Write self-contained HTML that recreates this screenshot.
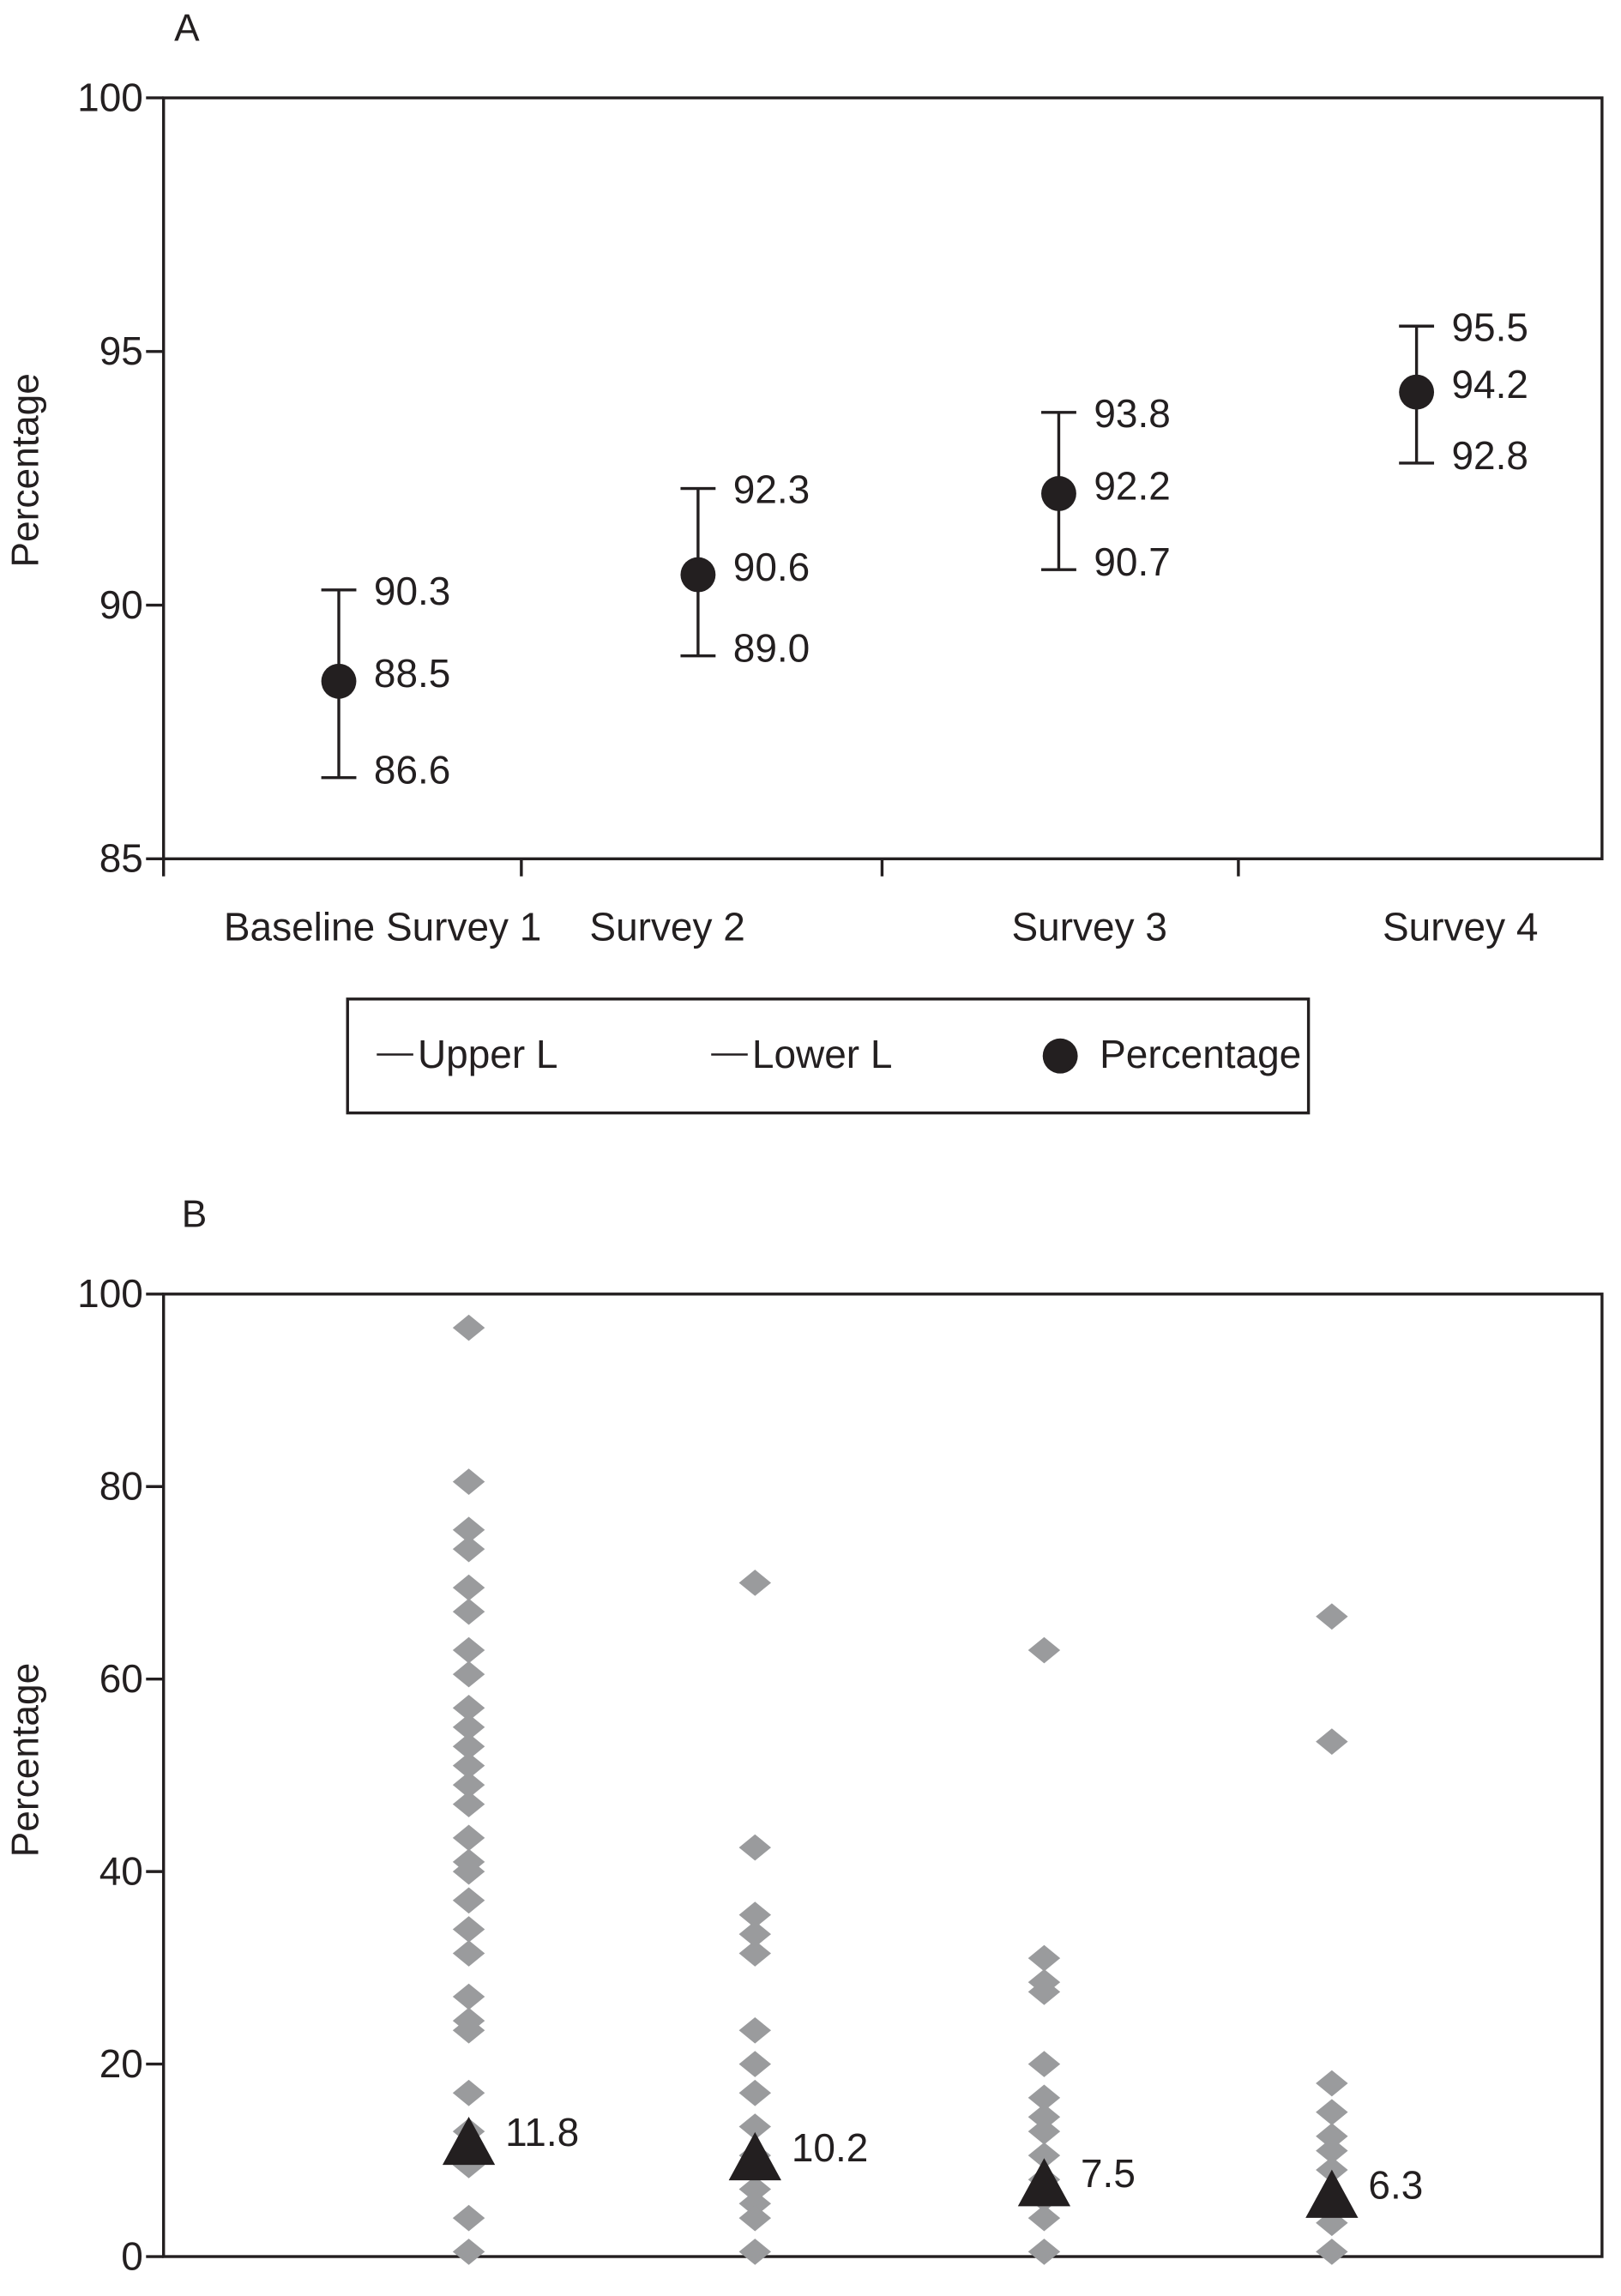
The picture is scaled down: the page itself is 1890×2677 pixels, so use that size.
<!DOCTYPE html>
<html><head><meta charset="utf-8"><style>
html,body{margin:0;padding:0;background:#fff}
svg{display:block}
text{font-family:"Liberation Sans Narrow","Liberation Sans",sans-serif;fill:#231f20}
</style></head><body>
<svg id="fig" width="1890" height="2677" viewBox="0 0 1110 1572" preserveAspectRatio="none" xmlns="http://www.w3.org/2000/svg">
<g id="chartA"></g>
<g id="chartB"></g>
</svg>
<script>
// ---- Chart A data ----
const catsA = ["Baseline Survey 1", "Survey 2", "Survey 3", "Survey 4"];
const meanA = [88.5, 90.6, 92.2, 94.2];
const upperA = [90.3, 92.3, 93.8, 95.5];
const lowerA = [86.6, 89.0, 90.7, 92.8];
const ticksA = [85, 90, 95, 100];
// ---- Chart B data ----
const meansB = [11.8, 10.2, 7.5, 6.3];
const col1 = [96.5, 80.5, 75.5, 73.5, 69.5, 67, 63, 60.5, 57, 55, 53, 51, 49, 47, 43.5, 41, 40, 37, 34, 31.5, 27, 24.5, 23.5, 17, 13, 9.5, 4, 0.5];
const col2 = [70, 42.5, 35.5, 33.5, 31.5, 23.5, 20, 17, 13.5, 10.5, 7, 5.5, 4, 0.5];
const col3 = [63, 31, 28.5, 27.5, 20, 16.5, 14.5, 13, 10.5, 8, 6, 4, 0.5];
const col4 = [66.5, 53.5, 18, 15, 12.5, 11, 9, 6, 3.5, 0.5];
const ticksB = [0, 20, 40, 60, 80, 100];

const NS = "http://www.w3.org/2000/svg";
function mk(parent, tag, attrs, txt) {
  const e = document.createElementNS(NS, tag);
  for (const k in attrs) e.setAttribute(k, attrs[k]);
  if (txt !== undefined) e.textContent = txt;
  parent.appendChild(e);
  return e;
}
const L = 112, R = 1097;

// ===== Chart A =====
const gA = document.getElementById('chartA');
const A_top = 67, A_bot = 588;
const yA = v => A_bot - (v - 85) / 15 * (A_bot - A_top);
const xA = i => [232, 478, 725, 970][i];
const catX = i => [262, 457, 746, 1000][i];
let t;
t = mk(gA, 'text', {x: 128, y: 28, 'font-size': 26, 'text-anchor': 'middle'}, 'A');


let r = mk(gA, 'rect', {x: L, y: A_top, width: R - L, height: A_bot - A_top, fill: 'none', stroke: '#231f20', 'stroke-width': 2});


t = mk(gA, 'text', {x: 0, y: 0, 'font-size': 26, 'text-anchor': 'middle', transform: 'translate(26,322) rotate(-90)'}, 'Percentage');


ticksA.forEach(v => {
  const l = mk(gA, 'line', {x1: 100, x2: L, y1: yA(v), y2: yA(v), stroke: '#231f20', 'stroke-width': 2});
  
  
  const tt = mk(gA, 'text', {x: 98, y: yA(v) + 9, 'font-size': 27, 'text-anchor': 'end'}, String(v));
  
  
});
[112, 357, 604, 848].forEach(x => {
  const l = mk(gA, 'line', {x1: x, x2: x, y1: A_bot, y2: A_bot + 12, stroke: '#231f20', 'stroke-width': 2});
  
  
});
catsA.forEach((c, i) => {
  const tt = mk(gA, 'text', {x: catX(i), y: 644, 'font-size': 27, 'text-anchor': 'middle'}, c);
  
  
  const x = xA(i);
  const w = mk(gA, 'path', {d: `M${x},${yA(upperA[i])}V${yA(lowerA[i])}M${x-12},${yA(upperA[i])}H${x+12}M${x-12},${yA(lowerA[i])}H${x+12}`, stroke: '#231f20', 'stroke-width': 2, fill: 'none'});
  
  
  const d = mk(gA, 'circle', {cx: x, cy: yA(meanA[i]), r: 12, fill: '#231f20'});
  
  
  const lu = mk(gA, 'text', {x: x + 24, y: yA(upperA[i]) + 10, 'font-size': 27}, upperA[i].toFixed(1));
  
  
  const lm = mk(gA, 'text', {x: x + 24, y: yA(meanA[i]) + 4, 'font-size': 27}, meanA[i].toFixed(1));
  
  
  const ll = mk(gA, 'text', {x: x + 24, y: yA(lowerA[i]) + 4, 'font-size': 27}, lowerA[i].toFixed(1));
  
  
});
// legend
const lg = mk(gA, 'g', {});


r = mk(lg, 'rect', {x: 238, y: 684, width: 658, height: 78, fill: 'none', stroke: '#231f20', 'stroke-width': 2});


[[258, 'Upper L'], [487, 'Lower L']].forEach(([x, s]) => {
  const l = mk(lg, 'line', {x1: x, x2: x + 25, y1: 722, y2: 722, stroke: '#231f20', 'stroke-width': 1.5});
  
  
  const tt = mk(lg, 'text', {x: x + 28, y: 731, 'font-size': 27}, s);
  
  
});
let c = mk(lg, 'circle', {cx: 726, cy: 723, r: 12, fill: '#231f20'});


t = mk(lg, 'text', {x: 753, y: 731, 'font-size': 27}, 'Percentage');



// ===== Chart B =====
const gB = document.getElementById('chartB');
const B_top = 886, B_bot = 1545;
const yB = v => B_bot - v / 100 * (B_bot - B_top);
const xB = i => [321, 517, 715, 912][i];
t = mk(gB, 'text', {x: 133, y: 840, 'font-size': 26, 'text-anchor': 'middle'}, 'B');


r = mk(gB, 'rect', {x: L, y: B_top, width: R - L, height: B_bot - B_top, fill: 'none', stroke: '#231f20', 'stroke-width': 2});


t = mk(gB, 'text', {x: 0, y: 0, 'font-size': 26, 'text-anchor': 'middle', transform: 'translate(26,1205) rotate(-90)'}, 'Percentage');


ticksB.forEach(v => {
  const l = mk(gB, 'line', {x1: 100, x2: L, y1: yB(v), y2: yB(v), stroke: '#231f20', 'stroke-width': 2});
  
  
  const tt = mk(gB, 'text', {x: 98, y: yB(v) + 9, 'font-size': 27, 'text-anchor': 'end'}, String(v));
  
  
});
[col1, col2, col3, col4].forEach((col, i) => {
  const x = xB(i);
  col.forEach(v => {
    const y = yB(v);
    const d = mk(gB, 'polygon', {points: `${x},${y-9} ${x+11},${y} ${x},${y+9} ${x-11},${y}`, fill: '#9a9b9d'});
    
    
  });
});
meansB.forEach((m, i) => {
  const x = xB(i), y = yB(m);
  const tr = mk(gB, 'polygon', {points: `${x},${y-18} ${x+18},${y+15} ${x-18},${y+15}`, fill: '#231f20'});
  
  
  const tt = mk(gB, 'text', {x: x + 25, y: y + 2, 'font-size': 27}, m.toFixed(1));
  
  
});
</script>
</body></html>
